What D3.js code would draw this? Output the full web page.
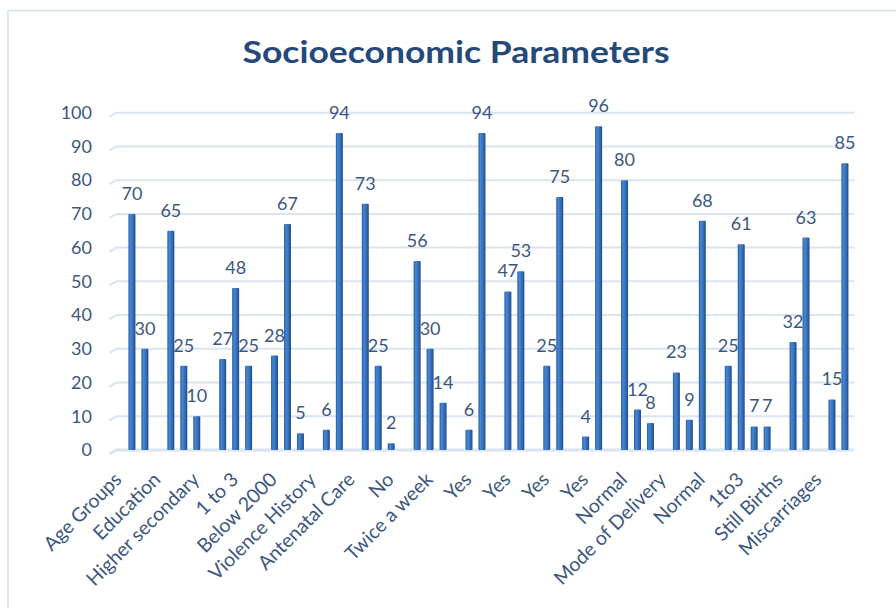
<!DOCTYPE html>
<html>
<head>
<meta charset="utf-8">
<script src="https://cdn.jsdelivr.net/npm/d3@7"></script>
<style>
  html, body { margin: 0; padding: 0; background: #fff; }
  #hook-chart { width: 896px; height: 608px; overflow: hidden; }
  text { font-family: Lato, 'Open Sans', sans-serif; }
</style>
</head>
<body>
<div id="hook-chart"></div>
<script>
'use strict';

var categories = ['Age Groups', 'Education', 'Higher secondary', '1 to 3', 'Below 2000',
  'Violence History', 'Antenatal Care', 'No', 'Twice a week', 'Yes', 'Yes', 'Yes', 'Yes',
  'Normal', 'Mode of Delivery', 'Normal', '1to3', 'Still Births', 'Miscarriages'];

var series1 = [null, null, 10, 48, 28, null, null, 2, 30, 6, 47, 25, 4, 80, null, 68, 61, null, null];
var series2 = [70, 65, null, 25, 67, 6, 73, null, 14, 94, 53, 75, 96, 12, 23, null, 7, 32, 15];
var series3 = [30, 25, 27, null, 5, 94, 25, 56, null, null, null, null, null, 8, 9, 25, 7, 63, 85];

var yTicks = [0, 10, 20, 30, 40, 50, 60, 70, 80, 90, 100];

var title = 'Socioeconomic Parameters';

(function() {

var options = {
  width: 896,
  height: 608,
  left: 112.5,
  right: 851.4,
  top: 112.7,
  bottom: 450,
  barWidth: 7
};

var textColor = '#3b5780';

var svg = d3.select('#hook-chart')
  .append('svg')
  .attr('width', options.width)
  .attr('height', options.height);

var defs = svg.append('defs');
var grad = defs.append('linearGradient')
  .attr('id', 'bar-grad')
  .attr('x1', '0%').attr('x2', '100%')
  .attr('y1', '0%').attr('y2', '0%');
grad.append('stop').attr('offset', '0%').attr('stop-color', '#2a5ca2');
grad.append('stop').attr('offset', '30%').attr('stop-color', '#4786d2');
grad.append('stop').attr('offset', '65%').attr('stop-color', '#336ebb');
grad.append('stop').attr('offset', '100%').attr('stop-color', '#214a85');

// chart frame
svg.append('rect')
  .attr('x', 8)
  .attr('y', 10.5)
  .attr('width', 950)
  .attr('height', 700)
  .style('fill', 'none')
  .style('stroke', '#d3dfee')
  .style('stroke-width', 1.5);

svg.append('text')
  .attr('x', 456)
  .attr('y', 63)
  .attr('text-anchor', 'middle')
  .attr('textLength', 427)
  .attr('lengthAdjust', 'spacingAndGlyphs')
  .style('font-size', '30px')
  .style('font-weight', 'bold')
  .style('fill', '#24497a')
  .text(title);

var x = d3.scaleBand()
  .domain(d3.range(categories.length))
  .range([options.left, options.right])
  .padding(0);

var xs = d3.scaleBand()
  .domain([0, 1, 2])
  .range([0, x.bandwidth()])
  .padding(0);

var y = d3.scaleLinear()
  .domain([0, 100])
  .range([options.bottom, options.top]);

// gridlines with a small slanted floor edge
var grid = svg.append('g');
yTicks.forEach(function(t) {
  var yy = y(t);
  grid.append('path')
    .attr('d', 'M' + (options.left - 3) + ',' + (yy + 4) + 'L' + (options.left + 4) + ',' + yy +
      'L' + (options.right + 3) + ',' + yy)
    .style('fill', 'none')
    .style('stroke', '#d9e4f2')
    .style('stroke-width', t === 0 ? 3 : 2);
});

var yAxis = svg.append('g')
  .attr('transform', 'translate(92,0)')
  .call(d3.axisLeft(y).tickValues(yTicks).tickSize(0).tickPadding(0));
yAxis.select('.domain').remove();
yAxis.selectAll('text')
  .style('font-size', '18px')
  .style('font-family', 'Lato, sans-serif')
  .style('fill', textColor);

var xAxis = svg.append('g')
  .attr('transform', 'translate(0,' + options.bottom + ')')
  .call(d3.axisBottom(x).tickSize(0).tickFormat(function(i) { return categories[i]; }));
xAxis.select('.domain').remove();
xAxis.selectAll('text')
  .attr('text-anchor', 'end')
  .attr('dy', '0.35em')
  .attr('transform', 'translate(-14,26) rotate(-45)')
  .attr('y', 0)
  .style('font-size', '19.5px')
  .style('font-family', 'Lato, sans-serif')
  .style('fill', textColor);

var allSeries = [series1, series2, series3];
var items = [];
allSeries.forEach(function(vals, s) {
  vals.forEach(function(v, i) {
    if (v !== null) items.push({ i: i, s: s, v: v });
  });
});

function barX(d) {
  return x(d.i) + xs(d.s) + xs.bandwidth() / 2;
}

svg.append('g')
  .selectAll('rect')
  .data(items)
  .enter()
  .append('rect')
  .attr('x', function(d) { return barX(d) - options.barWidth / 2; })
  .attr('y', function(d) { return y(d.v); })
  .attr('width', options.barWidth)
  .attr('height', function(d) { return y(0) - y(d.v); })
  .attr('rx', 1)
  .style('fill', 'url(#bar-grad)');

svg.append('g')
  .selectAll('text')
  .data(items)
  .enter()
  .append('text')
  .attr('x', function(d) { return barX(d); })
  .attr('y', function(d) { return y(d.v) - 14; })
  .attr('text-anchor', 'middle')
  .style('font-size', '18px')
  .style('fill', textColor)
  .text(function(d) { return d.v; });

}());
</script>
</body>
</html>
